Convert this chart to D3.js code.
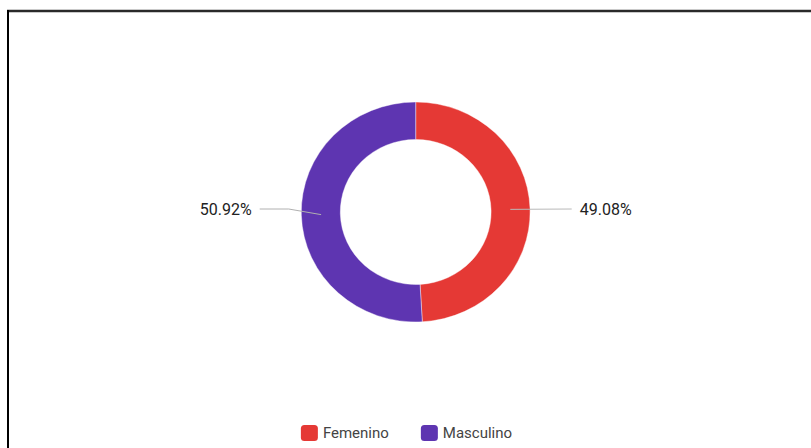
<!DOCTYPE html>
<html>
<head>
<meta charset="utf-8">
<script src="https://cdn.jsdelivr.net/npm/d3@7"></script>
<style>
  html, body { margin: 0; padding: 0; background: #fff; }
  svg { display: block; font-family: Roboto, "Noto Sans", sans-serif; }
</style>
</head>
<body>
<svg id="chart" width="811" height="448"></svg>
<script>
// ---- data ----
const categories = ["Femenino", "Masculino"];
const values = [49.08, 50.92];
const labels = ["49.08%", "50.92%"];
const colors = ["#e53935", "#5e35b1"];

// ---- layout ----
const W = 811, H = 448;
const cx = 415.7, cy = 212;
const sx = 1.04; // horizontal stretch seen in reference
const outerR = 110, innerR = 72.5;

const svg = d3.select("#chart");

// frame lines
svg.append("line").attr("x1", 7).attr("x2", W).attr("y1", 11).attr("y2", 11)
  .attr("stroke", "#2a2a2a").attr("stroke-width", 2.5);
svg.append("line").attr("x1", 8).attr("x2", 8).attr("y1", 10).attr("y2", H)
  .attr("stroke", "#000").attr("stroke-width", 2);

const data = categories.map((c, i) => ({ cat: c, value: values[i], label: labels[i], color: colors[i] }));

const pie = d3.pie().value(d => d.value).sort(null).startAngle(0).endAngle(2 * Math.PI);
const arcs = pie(data);
const arc = d3.arc().innerRadius(innerR).outerRadius(outerR);
const midArc = d3.arc().innerRadius(91).outerRadius(91);

const g = svg.append("g").attr("transform", `translate(${cx},${cy}) scale(${sx},1)`);
g.selectAll("path.slice").data(arcs).enter().append("path")
  .attr("class", "slice")
  .attr("d", arc)
  .attr("fill", d => d.data.color)
  .attr("stroke", "#fff").attr("stroke-width", 0.4);

// label lines + labels
const lg = svg.append("g").attr("transform", `translate(${cx},${cy})`);
arcs.forEach(d => {
  const mid = (d.startAngle + d.endAngle) / 2;
  const right = Math.sin(mid) > 0;
  const c = midArc.centroid(d);
  const p0 = [c[0] * sx, c[1]];
  const ly = -3;
  const elbowX = (right ? 1 : -1) * 127;
  const endX = (right ? 1 : -1) * 156;
  const pts = right ? [p0, [endX, ly]] : [p0, [elbowX, ly], [endX, ly]];
  lg.append("path")
    .attr("d", d3.line()(pts))
    .attr("fill", "none")
    .attr("stroke", right ? "#b9b9b9" : "#b0b0b0")
    .attr("stroke-width", 1);
  lg.append("text")
    .attr("x", endX + (right ? 8 : -8))
    .attr("y", ly)
    .attr("dy", "0.35em")
    .attr("text-anchor", right ? "start" : "end")
    .attr("font-size", 16)
    .attr("fill", "#222")
    .text(d.data.label);
});

// legend
const legend = svg.append("g");
const items = legend.selectAll("g.item").data(data).enter().append("g").attr("class", "item");
items.append("rect").attr("width", 17).attr("height", 16).attr("rx", 3.5).attr("ry", 3.5)
  .attr("fill", d => d.color);
items.append("text").attr("x", 22).attr("y", 8).attr("dy", "0.36em")
  .attr("font-size", 15).attr("fill", "#444").text(d => d.cat);
const widths = [];
items.each(function () {
  widths.push(22 + this.querySelector("text").getComputedTextLength());
});
const gap = 32;
const total = d3.sum(widths) + gap * (widths.length - 1);
let x0 = 406.5 - total / 2;
items.each(function (d, i) {
  d3.select(this).attr("transform", `translate(${x0},425)`);
  x0 += widths[i] + gap;
});
</script>
</body>
</html>
